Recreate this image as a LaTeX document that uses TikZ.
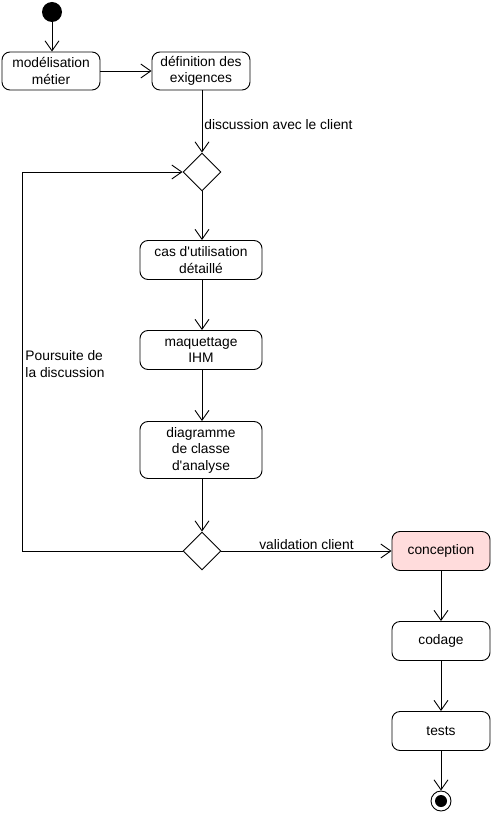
\documentclass[tikz,border=0pt]{standalone}
\usepackage{fontspec}
\setmainfont{Liberation Sans}[Ligatures=TeXOff]
\usepackage{xcolor}
\usetikzlibrary{shapes.geometric, arrows.meta, positioning, calc}

\definecolor{pinkfill}{HTML}{FFDCDC}

\begin{document}
\begin{tikzpicture}[x=1pt, y=-1pt, line width=0.9pt,
					font=\fontsize{13.8}{16.5}\selectfont,
					activity/.style={rectangle, draw, rounded corners=8pt, align=center, minimum height=38pt, minimum width=98pt, inner sep=1pt},
					decision/.style={diamond, draw, minimum width=38pt, minimum height=38pt, inner sep=0pt},
					flow/.style={-{Straight Barb[length=10pt, width=14pt]}},
					lbl/.style={inner sep=2pt}
				]
					\useasboundingbox (0,0) rectangle (493,813);
					
					% Start and end
					\node[circle, fill=black, minimum size=20pt, inner sep=0pt] (start) at (52,12) {};
					\node[circle, draw, fill=white, minimum size=20pt, inner sep=0pt] (stop) at (441,801) {};
					\node[circle, fill=black, minimum size=12pt, inner sep=0pt] at (stop) {};
					
					% Activities
					\node[activity] (metier) at (51,71) {modélisation\\métier};
					\node[activity] (exig) at (201,71) {définition des\\exigences};
					\node[decision] (d1) at (202,172) {};
					\node[activity, minimum width=122pt, minimum height=39pt] (cas) at (201,260) {cas d'utilisation\\détaillé};
					\node[activity, minimum width=122pt, minimum height=39pt] (ihm) at (201,350) {maquettage\\IHM};
					\node[activity, minimum width=122pt, minimum height=57pt] (classe) at (201,450) {diagramme\\de classe\\d'analyse};
					\node[decision] (d2) at (202,551) {};
					\node[activity, fill=pinkfill, minimum height=39pt] (conc) at (441,551) {conception};
					\node[activity, minimum height=39pt] (code) at (441,641) {codage};
					\node[activity, minimum height=39pt] (tests) at (441,731) {tests};
					\coordinate (loop) at (22,551);
					
					% Arrows
					\draw[flow] (start) -- (metier.north -| start);
					\draw[flow] (metier) -- (exig);
					\draw[flow] (exig.south -| d1) -- (d1) node[pos=0.55, right, lbl]{discussion avec le client};
					\draw[flow] (d1) -- (cas.north -| d1);
					\draw[flow] (cas.south -| d1) -- (ihm.north -| d1);
					\draw[flow] (ihm.south -| d1) -- (classe.north -| d1);
					\draw[flow] (classe.south -| d2) -- (d2);
					\draw[flow] (d2.west) -- (loop) |- (d1.west);
					\node[align=left, anchor=west, lbl] (pours) at (23,364) {Poursuite de\\la discussion};
					\draw[flow] (d2) -- (conc) node[midway, above, inner sep=1pt]{validation client};
					\draw[flow] (conc) -- (code);
					\draw[flow] (code) -- (tests);
					\draw[flow] (tests) -- (stop);
				\end{tikzpicture}
\end{document}
